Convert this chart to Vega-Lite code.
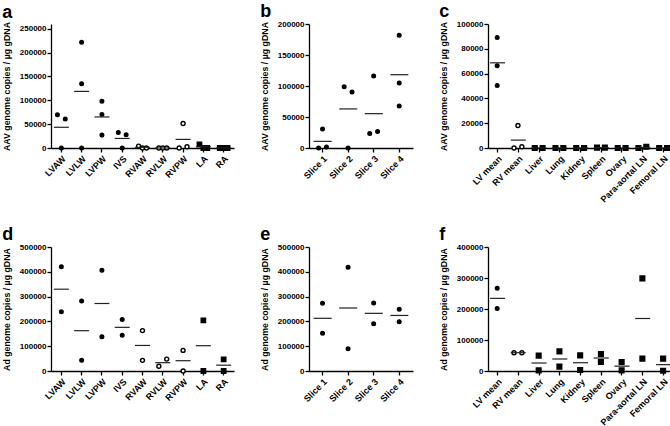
{
  "$schema": "https://vega.github.io/schema/vega-lite/v6.json",
  "padding": {"left": 2, "top": 3, "right": 0, "bottom": 0},
  "background": "white",
  "data": {"values": [
    {"panel":"a","site":"LVAW","rep":"1","value":69600,"group":"LV"},
    {"panel":"a","site":"LVAW","rep":"2","value":0,"group":"LV"},
    {"panel":"a","site":"LVAW","rep":"3","value":60800,"group":"LV"},
    {"panel":"a","site":"LVLW","rep":"2","value":221600,"group":"LV"},
    {"panel":"a","site":"LVLW","rep":"2","value":134500,"group":"LV"},
    {"panel":"a","site":"LVLW","rep":"2","value":0,"group":"LV"},
    {"panel":"a","site":"LVPW","rep":"2","value":98000,"group":"LV"},
    {"panel":"a","site":"LVPW","rep":"2","value":70300,"group":"LV"},
    {"panel":"a","site":"LVPW","rep":"2","value":27000,"group":"LV"},
    {"panel":"a","site":"IVS","rep":"1","value":32400,"group":"LV"},
    {"panel":"a","site":"IVS","rep":"2","value":0,"group":"LV"},
    {"panel":"a","site":"IVS","rep":"3","value":27700,"group":"LV"},
    {"panel":"a","site":"RVAW","rep":"1","value":4000,"group":"RV"},
    {"panel":"a","site":"RVAW","rep":"2","value":0,"group":"RV"},
    {"panel":"a","site":"RVAW","rep":"3","value":0,"group":"RV"},
    {"panel":"a","site":"RVLW","rep":"1","value":0,"group":"RV"},
    {"panel":"a","site":"RVLW","rep":"2","value":0,"group":"RV"},
    {"panel":"a","site":"RVLW","rep":"3","value":0,"group":"RV"},
    {"panel":"a","site":"RVPW","rep":"1","value":0,"group":"RV"},
    {"panel":"a","site":"RVPW","rep":"2","value":51400,"group":"RV"},
    {"panel":"a","site":"RVPW","rep":"3","value":2700,"group":"RV"},
    {"panel":"a","site":"LA","rep":"1","value":7500,"group":"Atria"},
    {"panel":"a","site":"LA","rep":"2","value":0,"group":"Atria"},
    {"panel":"a","site":"LA","rep":"3","value":0,"group":"Atria"},
    {"panel":"a","site":"RA","rep":"1","value":0,"group":"Atria"},
    {"panel":"a","site":"RA","rep":"2","value":0,"group":"Atria"},
    {"panel":"a","site":"RA","rep":"3","value":0,"group":"Atria"},

    {"panel":"b","site":"Slice 1","rep":"1","value":0,"group":"LV"},
    {"panel":"b","site":"Slice 1","rep":"2","value":30500,"group":"LV"},
    {"panel":"b","site":"Slice 1","rep":"3","value":1600,"group":"LV"},
    {"panel":"b","site":"Slice 2","rep":"1","value":98600,"group":"LV"},
    {"panel":"b","site":"Slice 2","rep":"2","value":0,"group":"LV"},
    {"panel":"b","site":"Slice 2","rep":"3","value":90500,"group":"LV"},
    {"panel":"b","site":"Slice 3","rep":"1","value":23400,"group":"LV"},
    {"panel":"b","site":"Slice 3","rep":"2","value":116000,"group":"LV"},
    {"panel":"b","site":"Slice 3","rep":"3","value":26700,"group":"LV"},
    {"panel":"b","site":"Slice 4","rep":"2","value":182000,"group":"LV"},
    {"panel":"b","site":"Slice 4","rep":"2","value":105000,"group":"LV"},
    {"panel":"b","site":"Slice 4","rep":"2","value":67600,"group":"LV"},

    {"panel":"c","site":"LV mean","rep":"2","value":89200,"group":"LV"},
    {"panel":"c","site":"LV mean","rep":"2","value":66400,"group":"LV"},
    {"panel":"c","site":"LV mean","rep":"2","value":50500,"group":"LV"},
    {"panel":"c","site":"RV mean","rep":"1","value":0,"group":"RV"},
    {"panel":"c","site":"RV mean","rep":"2","value":18100,"group":"RV"},
    {"panel":"c","site":"RV mean","rep":"3","value":1000,"group":"RV"},
    {"panel":"c","site":"Liver","rep":"1","value":0,"group":"Other"},
    {"panel":"c","site":"Liver","rep":"3","value":0,"group":"Other"},
    {"panel":"c","site":"Lung","rep":"1","value":0,"group":"Other"},
    {"panel":"c","site":"Lung","rep":"3","value":0,"group":"Other"},
    {"panel":"c","site":"Kidney","rep":"1","value":0,"group":"Other"},
    {"panel":"c","site":"Kidney","rep":"3","value":0,"group":"Other"},
    {"panel":"c","site":"Spleen","rep":"1","value":300,"group":"Other"},
    {"panel":"c","site":"Spleen","rep":"3","value":300,"group":"Other"},
    {"panel":"c","site":"Ovary","rep":"1","value":0,"group":"Other"},
    {"panel":"c","site":"Ovary","rep":"3","value":0,"group":"Other"},
    {"panel":"c","site":"Para-aortal LN","rep":"1","value":0,"group":"Other"},
    {"panel":"c","site":"Para-aortal LN","rep":"3","value":1000,"group":"Other"},
    {"panel":"c","site":"Femoral LN","rep":"1","value":0,"group":"Other"},
    {"panel":"c","site":"Femoral LN","rep":"3","value":0,"group":"Other"},

    {"panel":"d","site":"LVAW","rep":"2","value":420700,"group":"LV"},
    {"panel":"d","site":"LVAW","rep":"2","value":239000,"group":"LV"},
    {"panel":"d","site":"LVLW","rep":"2","value":282000,"group":"LV"},
    {"panel":"d","site":"LVLW","rep":"2","value":43000,"group":"LV"},
    {"panel":"d","site":"LVPW","rep":"2","value":406000,"group":"LV"},
    {"panel":"d","site":"LVPW","rep":"2","value":138400,"group":"LV"},
    {"panel":"d","site":"IVS","rep":"2","value":208000,"group":"LV"},
    {"panel":"d","site":"IVS","rep":"2","value":144000,"group":"LV"},
    {"panel":"d","site":"RVAW","rep":"2","value":163000,"group":"RV"},
    {"panel":"d","site":"RVAW","rep":"2","value":43000,"group":"RV"},
    {"panel":"d","site":"RVLW","rep":"1","value":19000,"group":"RV"},
    {"panel":"d","site":"RVLW","rep":"3","value":48000,"group":"RV"},
    {"panel":"d","site":"RVPW","rep":"2","value":83000,"group":"RV"},
    {"panel":"d","site":"RVPW","rep":"2","value":0,"group":"RV"},
    {"panel":"d","site":"LA","rep":"2","value":204000,"group":"Atria"},
    {"panel":"d","site":"LA","rep":"2","value":0,"group":"Atria"},
    {"panel":"d","site":"RA","rep":"2","value":47000,"group":"Atria"},
    {"panel":"d","site":"RA","rep":"2","value":0,"group":"Atria"},

    {"panel":"e","site":"Slice 1","rep":"2","value":273000,"group":"LV"},
    {"panel":"e","site":"Slice 1","rep":"2","value":152000,"group":"LV"},
    {"panel":"e","site":"Slice 2","rep":"2","value":418000,"group":"LV"},
    {"panel":"e","site":"Slice 2","rep":"2","value":90000,"group":"LV"},
    {"panel":"e","site":"Slice 3","rep":"2","value":274000,"group":"LV"},
    {"panel":"e","site":"Slice 3","rep":"2","value":191000,"group":"LV"},
    {"panel":"e","site":"Slice 4","rep":"2","value":249000,"group":"LV"},
    {"panel":"e","site":"Slice 4","rep":"2","value":199000,"group":"LV"},

    {"panel":"f","site":"LV mean","rep":"2","value":266700,"group":"LV"},
    {"panel":"f","site":"LV mean","rep":"2","value":202000,"group":"LV"},
    {"panel":"f","site":"RV mean","rep":"1","value":59000,"group":"RV"},
    {"panel":"f","site":"RV mean","rep":"3","value":59000,"group":"RV"},
    {"panel":"f","site":"Liver","rep":"2","value":49500,"group":"Other"},
    {"panel":"f","site":"Liver","rep":"2","value":2000,"group":"Other"},
    {"panel":"f","site":"Lung","rep":"2","value":63400,"group":"Other"},
    {"panel":"f","site":"Lung","rep":"2","value":14000,"group":"Other"},
    {"panel":"f","site":"Kidney","rep":"2","value":50500,"group":"Other"},
    {"panel":"f","site":"Kidney","rep":"2","value":3000,"group":"Other"},
    {"panel":"f","site":"Spleen","rep":"2","value":54800,"group":"Other"},
    {"panel":"f","site":"Spleen","rep":"2","value":29000,"group":"Other"},
    {"panel":"f","site":"Ovary","rep":"2","value":29000,"group":"Other"},
    {"panel":"f","site":"Ovary","rep":"2","value":2000,"group":"Other"},
    {"panel":"f","site":"Para-aortal LN","rep":"2","value":298900,"group":"Other"},
    {"panel":"f","site":"Para-aortal LN","rep":"2","value":39800,"group":"Other"},
    {"panel":"f","site":"Femoral LN","rep":"2","value":39800,"group":"Other"},
    {"panel":"f","site":"Femoral LN","rep":"2","value":1000,"group":"Other"}
  ]},
  "spacing": 22,
  "vconcat": [
    {
      "spacing": 26,
      "hconcat": [
        {
          "title": {"text": "a"},
          "width": 183, "height": 124,
          "transform": [{"filter": "datum.panel === 'a'"}],
          "encoding": {
            "x": {"field": "site", "type": "nominal", "sort": ["LVAW","LVLW","LVPW","IVS","RVAW","RVLW","RVPW","LA","RA"], "scale": {"paddingInner": 0.42, "paddingOuter": 0.22}, "axis": {"title": null, "labelAngle": -45}}
          },
          "layer": [
            {
              "mark": {"type": "point", "filled": true, "stroke": "black", "strokeWidth": 1.4, "opacity": 1},
              "encoding": {
                "xOffset": {"field": "rep", "type": "nominal", "scale": {"domain": ["1","2","3"]}},
                "y": {"field": "value", "type": "quantitative", "scale": {"domain": [0, 250000]}, "axis": {"title": "AAV genome copies / µg gDNA", "values": [0,50000,100000,150000,200000,250000], "format": "d"}},
                "shape": {"field": "group", "type": "nominal", "scale": {"domain": ["LV","RV","Atria","Other"], "range": ["circle","circle","square","square"]}, "legend": null},
                "fill": {"field": "group", "type": "nominal", "scale": {"domain": ["LV","RV","Atria","Other"], "range": ["black","white","black","black"]}, "legend": null},
                "size": {"field": "group", "type": "nominal", "scale": {"domain": ["LV","RV","Atria","Other"], "range": [13,22,13,13]}, "legend": null}
              }
            },
            {
              "mark": {"type": "tick", "size": 15, "thickness": 1.2, "color": "#222"},
              "encoding": {
                "y": {"aggregate": "mean", "field": "value", "type": "quantitative", "axis": {"title": "AAV genome copies / µg gDNA", "values": [0,50000,100000,150000,200000,250000], "format": "d"}}
              }
            }
          ]
        },
        {
          "title": {"text": "b"},
          "width": 104, "height": 124,
          "transform": [{"filter": "datum.panel === 'b'"}],
          "encoding": {
            "x": {"field": "site", "type": "nominal", "sort": ["Slice 1","Slice 2","Slice 3","Slice 4"], "scale": {"paddingInner": 0.53, "paddingOuter": 0.3}, "axis": {"title": null, "labelAngle": -45}}
          },
          "layer": [
            {
              "mark": {"type": "point", "filled": true, "stroke": "black", "strokeWidth": 1.4, "opacity": 1},
              "encoding": {
                "xOffset": {"field": "rep", "type": "nominal", "scale": {"domain": ["1","2","3"]}},
                "y": {"field": "value", "type": "quantitative", "scale": {"domain": [0, 200000]}, "axis": {"title": "AAV genome copies / µg gDNA", "values": [0,50000,100000,150000,200000], "format": "d"}},
                "shape": {"field": "group", "type": "nominal", "scale": {"domain": ["LV","RV","Atria","Other"], "range": ["circle","circle","square","square"]}, "legend": null},
                "fill": {"field": "group", "type": "nominal", "scale": {"domain": ["LV","RV","Atria","Other"], "range": ["black","white","black","black"]}, "legend": null},
                "size": {"field": "group", "type": "nominal", "scale": {"domain": ["LV","RV","Atria","Other"], "range": [13,22,13,13]}, "legend": null}
              }
            },
            {
              "mark": {"type": "tick", "size": 18, "thickness": 1.2, "color": "#222"},
              "encoding": {
                "y": {"aggregate": "mean", "field": "value", "type": "quantitative", "axis": {"title": "AAV genome copies / µg gDNA", "values": [0,50000,100000,150000,200000], "format": "d"}}
              }
            }
          ]
        },
        {
          "title": {"text": "c"},
          "width": 185, "height": 124,
          "transform": [{"filter": "datum.panel === 'c'"}],
          "encoding": {
            "x": {"field": "site", "type": "nominal", "sort": ["LV mean","RV mean","Liver","Lung","Kidney","Spleen","Ovary","Para-aortal LN","Femoral LN"], "scale": {"paddingInner": 0.4, "paddingOuter": 0.16}, "axis": {"title": null, "labelAngle": -45}}
          },
          "layer": [
            {
              "mark": {"type": "point", "filled": true, "stroke": "black", "strokeWidth": 1.4, "opacity": 1},
              "encoding": {
                "xOffset": {"field": "rep", "type": "nominal", "scale": {"domain": ["1","2","3"]}},
                "y": {"field": "value", "type": "quantitative", "scale": {"domain": [0, 100000]}, "axis": {"title": "AAV genome copies / µg gDNA", "values": [0,20000,40000,60000,80000,100000], "format": "d"}},
                "shape": {"field": "group", "type": "nominal", "scale": {"domain": ["LV","RV","Atria","Other"], "range": ["circle","circle","square","square"]}, "legend": null},
                "fill": {"field": "group", "type": "nominal", "scale": {"domain": ["LV","RV","Atria","Other"], "range": ["black","white","black","black"]}, "legend": null},
                "size": {"field": "group", "type": "nominal", "scale": {"domain": ["LV","RV","Atria","Other"], "range": [13,22,13,13]}, "legend": null}
              }
            },
            {
              "mark": {"type": "tick", "size": 15, "thickness": 1.2, "color": "#222"},
              "encoding": {
                "y": {"aggregate": "mean", "field": "value", "type": "quantitative", "axis": {"title": "AAV genome copies / µg gDNA", "values": [0,20000,40000,60000,80000,100000], "format": "d"}}
              }
            }
          ]
        }
      ]
    },
    {
      "spacing": 26,
      "hconcat": [
        {
          "title": {"text": "d"},
          "width": 183, "height": 124,
          "transform": [{"filter": "datum.panel === 'd'"}],
          "encoding": {
            "x": {"field": "site", "type": "nominal", "sort": ["LVAW","LVLW","LVPW","IVS","RVAW","RVLW","RVPW","LA","RA"], "scale": {"paddingInner": 0.42, "paddingOuter": 0.22}, "axis": {"title": null, "labelAngle": -45}}
          },
          "layer": [
            {
              "mark": {"type": "point", "filled": true, "stroke": "black", "strokeWidth": 1.4, "opacity": 1},
              "encoding": {
                "xOffset": {"field": "rep", "type": "nominal", "scale": {"domain": ["1","2","3"]}},
                "y": {"field": "value", "type": "quantitative", "scale": {"domain": [0, 500000]}, "axis": {"title": "Ad genome copies / µg gDNA", "values": [0,100000,200000,300000,400000,500000], "format": "d"}},
                "shape": {"field": "group", "type": "nominal", "scale": {"domain": ["LV","RV","Atria","Other"], "range": ["circle","circle","square","square"]}, "legend": null},
                "fill": {"field": "group", "type": "nominal", "scale": {"domain": ["LV","RV","Atria","Other"], "range": ["black","white","black","black"]}, "legend": null},
                "size": {"field": "group", "type": "nominal", "scale": {"domain": ["LV","RV","Atria","Other"], "range": [13,22,13,13]}, "legend": null}
              }
            },
            {
              "mark": {"type": "tick", "size": 15, "thickness": 1.2, "color": "#222"},
              "encoding": {
                "y": {"aggregate": "mean", "field": "value", "type": "quantitative", "axis": {"title": "Ad genome copies / µg gDNA", "values": [0,100000,200000,300000,400000,500000], "format": "d"}}
              }
            }
          ]
        },
        {
          "title": {"text": "e"},
          "width": 104, "height": 124,
          "transform": [{"filter": "datum.panel === 'e'"}],
          "encoding": {
            "x": {"field": "site", "type": "nominal", "sort": ["Slice 1","Slice 2","Slice 3","Slice 4"], "scale": {"paddingInner": 0.53, "paddingOuter": 0.3}, "axis": {"title": null, "labelAngle": -45}}
          },
          "layer": [
            {
              "mark": {"type": "point", "filled": true, "stroke": "black", "strokeWidth": 1.4, "opacity": 1},
              "encoding": {
                "xOffset": {"field": "rep", "type": "nominal", "scale": {"domain": ["1","2","3"]}},
                "y": {"field": "value", "type": "quantitative", "scale": {"domain": [0, 500000]}, "axis": {"title": "Ad genome copies / µg gDNA", "values": [0,100000,200000,300000,400000,500000], "format": "d"}},
                "shape": {"field": "group", "type": "nominal", "scale": {"domain": ["LV","RV","Atria","Other"], "range": ["circle","circle","square","square"]}, "legend": null},
                "fill": {"field": "group", "type": "nominal", "scale": {"domain": ["LV","RV","Atria","Other"], "range": ["black","white","black","black"]}, "legend": null},
                "size": {"field": "group", "type": "nominal", "scale": {"domain": ["LV","RV","Atria","Other"], "range": [13,22,13,13]}, "legend": null}
              }
            },
            {
              "mark": {"type": "tick", "size": 18, "thickness": 1.2, "color": "#222"},
              "encoding": {
                "y": {"aggregate": "mean", "field": "value", "type": "quantitative", "axis": {"title": "Ad genome copies / µg gDNA", "values": [0,100000,200000,300000,400000,500000], "format": "d"}}
              }
            }
          ]
        },
        {
          "title": {"text": "f"},
          "width": 185, "height": 124,
          "transform": [{"filter": "datum.panel === 'f'"}],
          "encoding": {
            "x": {"field": "site", "type": "nominal", "sort": ["LV mean","RV mean","Liver","Lung","Kidney","Spleen","Ovary","Para-aortal LN","Femoral LN"], "scale": {"paddingInner": 0.4, "paddingOuter": 0.16}, "axis": {"title": null, "labelAngle": -45}}
          },
          "layer": [
            {
              "mark": {"type": "point", "filled": true, "stroke": "black", "strokeWidth": 1.4, "opacity": 1},
              "encoding": {
                "xOffset": {"field": "rep", "type": "nominal", "scale": {"domain": ["1","2","3"]}},
                "y": {"field": "value", "type": "quantitative", "scale": {"domain": [0, 400000]}, "axis": {"title": "Ad genome copies / µg gDNA", "values": [0,100000,200000,300000,400000], "format": "d"}},
                "shape": {"field": "group", "type": "nominal", "scale": {"domain": ["LV","RV","Atria","Other"], "range": ["circle","circle","square","square"]}, "legend": null},
                "fill": {"field": "group", "type": "nominal", "scale": {"domain": ["LV","RV","Atria","Other"], "range": ["black","white","black","black"]}, "legend": null},
                "size": {"field": "group", "type": "nominal", "scale": {"domain": ["LV","RV","Atria","Other"], "range": [13,22,13,13]}, "legend": null}
              }
            },
            {
              "mark": {"type": "tick", "size": 15, "thickness": 1.2, "color": "#222"},
              "encoding": {
                "y": {"aggregate": "mean", "field": "value", "type": "quantitative", "axis": {"title": "Ad genome copies / µg gDNA", "values": [0,100000,200000,300000,400000], "format": "d"}}
              }
            }
          ]
        }
      ]
    }
  ],
  "config": {
    "view": {"stroke": null},
    "font": "Liberation Sans",
    "axis": {
      "grid": false,
      "domainColor": "black", "domainWidth": 1.3,
      "tickColor": "black", "tickWidth": 1.3, "tickSize": 4,
      "labelColor": "black", "labelFont": "Liberation Sans", "labelFontSize": 8, "labelFontWeight": "bold", "labelPadding": 1,
      "titleColor": "black", "titleFont": "Liberation Sans", "titleFontSize": 8.8, "titleFontWeight": "bold"
    },
    "axisY": {"titlePadding": 8},
    "axisX": {"labelPadding": 2, "labelFontSize": 9},
    "title": {"font": "Liberation Sans", "fontSize": 18, "fontWeight": "bold", "anchor": "start", "frame": "bounds", "offset": -1, "color": "black"}
  }
}
